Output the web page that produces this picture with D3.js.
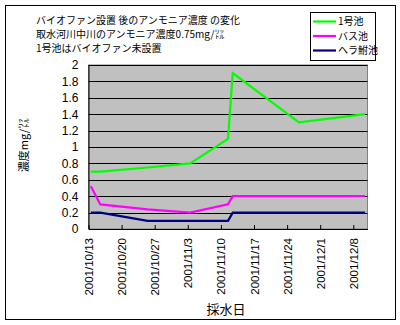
<!DOCTYPE html>
<html>
<head>
<meta charset="utf-8">
<script src="https://cdn.jsdelivr.net/npm/d3@7"></script>
<style>
  html, body { margin: 0; padding: 0; background: #fff; }
  svg { display: block; }
  text { font-family: "Liberation Sans", "Noto Sans CJK JP", sans-serif; fill: #000; }
  .jp { font-family: "Noto Sans CJK JP", sans-serif; }
</style>
</head>
<body>
<svg id="chart" width="400" height="325"></svg>
<script>
// Sampling dates and ammonia readings (mg/L) per pond
const dates = ["2001-10-13", "2001-10-15", "2001-10-25", "2001-11-03", "2001-11-11", "2001-11-12", "2001-11-26", "2001-12-10"];
const pond1 = [0.70, 0.70, 0.75, 0.80, 1.10, 1.90, 1.30, 1.40];
const bassPond = [0.52, 0.30, 0.24, 0.20, 0.30, 0.40, 0.40, 0.40];
const herabunaPond = [0.20, 0.20, 0.10, 0.10, 0.10, 0.20, 0.20, 0.20];
const seriesNames = ["1号池", "バス池", "ヘラ鮒池"];
const seriesColors = ["#00ff00", "#ff00ff", "#000080"];
const yTicks = [0, 0.2, 0.4, 0.6, 0.8, 1, 1.2, 1.4, 1.6, 1.8, 2];
const xTickDates = ["2001-10-13", "2001-10-20", "2001-10-27", "2001-11-03", "2001-11-10", "2001-11-17", "2001-11-24", "2001-12-01", "2001-12-08"];
const titleLines = ["バイオファン設置 後のアンモニア濃度 の変化", "取水河川中川のアンモニア濃度0.75mg/㍑", "1号池はバイオファン未設置"];
const yTitle = "濃度mg/㍑";
const xTitle = "採水日";

const parse = d3.utcParse("%Y-%m-%d");
const fmt = d3.utcFormat("%Y/%-m/%-d");
const svg = d3.select("#chart");

// outer chart border
svg.append("rect").attr("x", 5.5).attr("y", 5.5).attr("width", 390).attr("height", 314)
  .attr("fill", "#fff").attr("stroke", "#000");

const plot = { left: 88.5, right: 367.5, top: 65, bottom: 229 };

const x = d3.scaleUtc()
  .domain([parse("2001-10-13"), parse("2001-12-11")])
  .range([plot.left, plot.right]);
const y = d3.scaleLinear().domain([0, 2]).range([plot.bottom, plot.top]);

// plot background
svg.append("rect").attr("x", plot.left).attr("y", plot.top)
  .attr("width", plot.right - plot.left).attr("height", plot.bottom - plot.top)
  .attr("fill", "#c0c0c0").attr("stroke", "#808080");

// horizontal gridlines
svg.append("g").selectAll("line").data(yTicks.filter(v => v > 0)).join("line")
  .attr("x1", plot.left).attr("x2", plot.right)
  .attr("y1", d => Math.round(y(d)) + 0.5).attr("y2", d => Math.round(y(d)) + 0.5)
  .attr("stroke", "#000").attr("stroke-width", 1);

// y axis
const yAxis = svg.append("g").attr("transform", `translate(${plot.left},0)`)
  .call(d3.axisLeft(y).tickValues(yTicks).tickSize(0).tickPadding(10)
    .tickFormat(d => String(+d.toFixed(1))));
yAxis.select(".domain").attr("stroke", "#000");
yAxis.selectAll("text").style("font-size", "12px").attr("fill", "#000");

// x axis with inward ticks
const xAxis = svg.append("g").attr("transform", `translate(0,${plot.bottom})`)
  .call(d3.axisBottom(x).tickValues(xTickDates.map(parse)).tickSize(-4).tickSizeOuter(0).tickFormat(fmt));
xAxis.select(".domain").attr("stroke", "#000");
xAxis.selectAll(".tick line").attr("stroke", "#000");
xAxis.selectAll("text")
  .style("font-size", "11.5px")
  .attr("transform", "rotate(-90)")
  .attr("text-anchor", "end")
  .attr("x", -9).attr("y", 0).attr("dy", "0.35em");

// series lines, points at mid-day
const line = d3.line()
  .x((d, i) => x(d3.utcHour.offset(parse(dates[i]), 12)))
  .y(d => y(d));
[pond1, bassPond, herabunaPond].forEach((vals, i) => {
  svg.append("path").datum(vals).attr("d", line)
    .attr("fill", "none").attr("stroke", seriesColors[i]).attr("stroke-width", 2.2)
    .attr("stroke-linejoin", "miter");
});

// title block
svg.append("g").selectAll("text").data(titleLines).join("text")
  .attr("class", "jp")
  .attr("x", 36).attr("y", (d, i) => 24 + i * 14)
  .style("font-size", "10px").text(d => d);

// axis titles
svg.append("text").attr("class", "jp")
  .attr("transform", `translate(28,145) rotate(-90)`)
  .attr("text-anchor", "middle").style("font-size", "11px").text(yTitle);
svg.append("text").attr("class", "jp")
  .attr("x", 226).attr("y", 314).attr("text-anchor", "middle")
  .style("font-size", "13px").text(xTitle);

// legend
const lg = svg.append("g");
lg.append("rect").attr("x", 310.5).attr("y", 12.5).attr("width", 65).attr("height", 48)
  .attr("fill", "#fff").attr("stroke", "#000");
seriesNames.forEach((name, i) => {
  const cy = 21.5 + i * 14.5;
  lg.append("line").attr("x1", 313).attr("x2", 336).attr("y1", cy).attr("y2", cy)
    .attr("stroke", seriesColors[i]).attr("stroke-width", 2.2);
  lg.append("text").attr("class", "jp").attr("x", 338).attr("y", cy).attr("dy", "0.36em")
    .style("font-size", "10px").text(name);
});
</script>
</body>
</html>
